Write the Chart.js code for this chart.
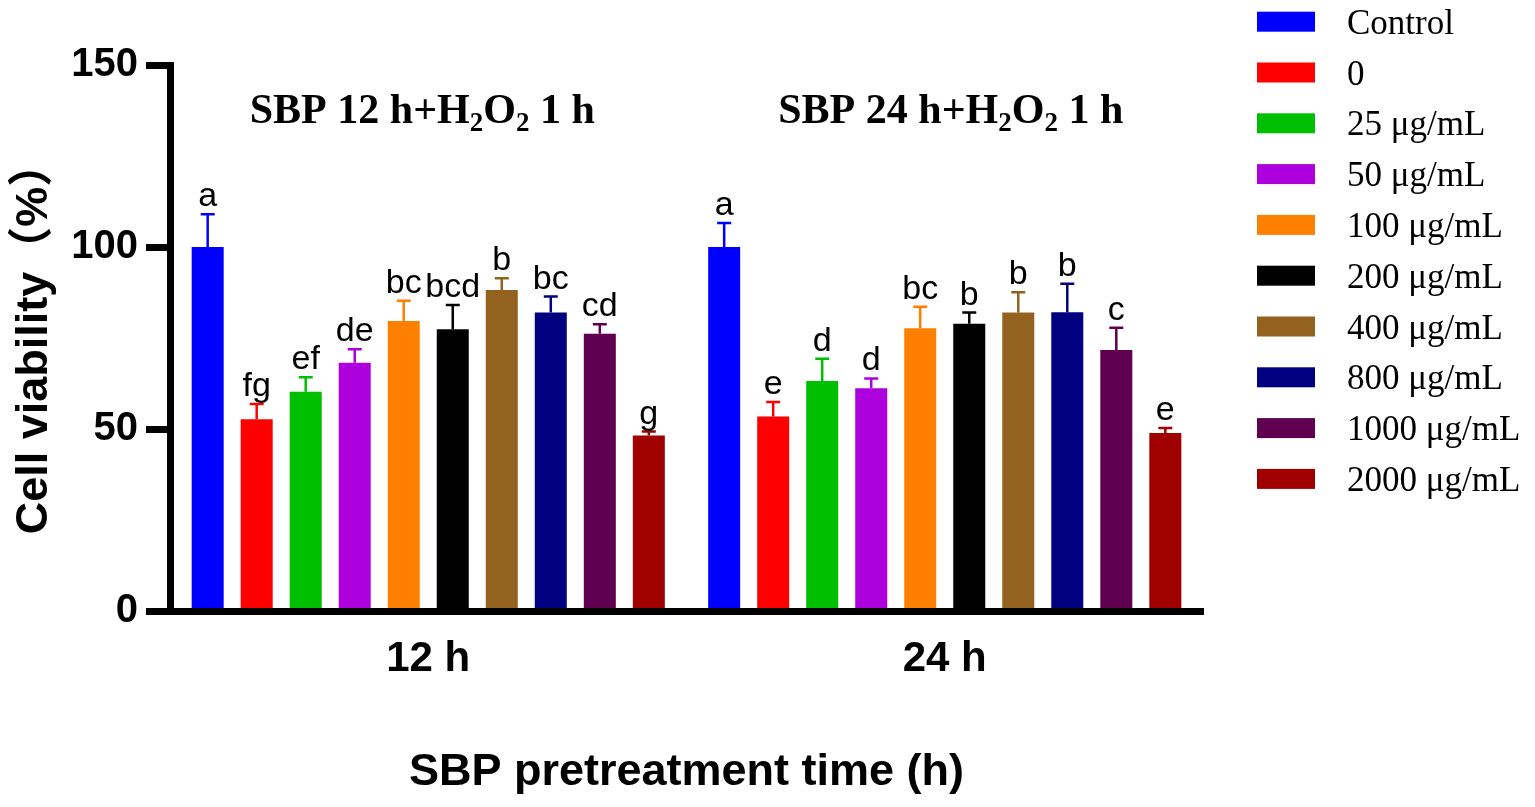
<!DOCTYPE html>
<html>
<head>
<meta charset="utf-8">
<script src="https://cdn.jsdelivr.net/npm/chart.js@4.4.1/dist/chart.umd.min.js"></script>
<style>
  html, body { margin: 0; padding: 0; background: #fff; }
  #wrap { width: 1535px; height: 807px; position: relative; }
</style>
</head>
<body>
<div id="wrap"><canvas id="viabilityChart"></canvas></div>
<script>
// ===== DATA =====
const timeLabels = ['12 h', '24 h'];
const groupTitles = ['SBP 12 h+H|2|O|2| 1 h', 'SBP 24 h+H|2|O|2| 1 h'];
const doses = ['Control', '0', '25 μg/mL', '50 μg/mL', '100 μg/mL', '200 μg/mL',
  '400 μg/mL', '800 μg/mL', '1000 μg/mL', '2000 μg/mL'];
const doseColors = ['#0000FF', '#FF0000', '#00BF00', '#AE00DE', '#FF8000', '#000000',
  '#94621F', '#000080', '#5F0050', '#A00000'];
const viability12 = [100, 52.7, 60.2, 68.2, 79.7, 77.4, 88.2, 82.0, 76.2, 48.2];
const error12 = [9.0, 4.2, 4.0, 3.7, 5.5, 6.7, 3.2, 4.4, 2.6, 1.1];
const letters12 = ['a', 'fg', 'ef', 'de', 'bc', 'bcd', 'b', 'bc', 'cd', 'g'];
const viability24 = [100, 53.4, 63.2, 61.2, 77.7, 78.9, 82.0, 82.1, 71.7, 48.9];
const error24 = [6.6, 4.0, 6.1, 2.7, 5.9, 3.1, 5.6, 7.8, 6.1, 1.4];
const letters24 = ['a', 'e', 'd', 'd', 'bc', 'b', 'b', 'b', 'c', 'e'];
const yTicks = [0, 50, 100, 150];

const errors = [error12, error24];
const letters = [letters12, letters24];

const sans = '"Liberation Sans", Arial, "Noto Sans CJK SC", sans-serif';
const serif = '"Liberation Serif", "Times New Roman", serif';

// error bars + significance letters
const errorBarPlugin = {
  id: 'errorBars',
  afterDatasetsDraw(chart) {
    const ctx = chart.ctx;
    const y = chart.scales.y;
    ctx.save();
    chart.data.datasets.forEach((ds, di) => {
      const meta = chart.getDatasetMeta(di);
      meta.data.forEach((bar, gi) => {
        const top = y.getPixelForValue(ds.data[gi] + errors[gi][di]);
        ctx.strokeStyle = ds.backgroundColor;
        ctx.lineWidth = 2.5;
        ctx.beginPath();
        ctx.moveTo(bar.x, bar.y);
        ctx.lineTo(bar.x, top);
        ctx.moveTo(bar.x - 7, top);
        ctx.lineTo(bar.x + 7, top);
        ctx.stroke();
        ctx.fillStyle = '#000';
        ctx.font = '34px ' + sans;
        ctx.textAlign = 'center';
        ctx.textBaseline = 'alphabetic';
        ctx.fillText(letters[gi][di], bar.x, top - 8);
      });
    });
    ctx.restore();
  }
};

// group titles with subscripts
const groupTitlePlugin = {
  id: 'groupTitles',
  afterDraw(chart) {
    const ctx = chart.ctx;
    const x = chart.scales.x, y = chart.scales.y;
    const big = 'bold 42px ' + serif, small = 'bold 27px ' + serif;
    ctx.save();
    ctx.fillStyle = '#000';
    ctx.textBaseline = 'alphabetic';
    ctx.textAlign = 'left';
    groupTitles.forEach((t, i) => {
      const parts = t.split('|');
      let w = 0;
      parts.forEach((p, k) => { ctx.font = k % 2 ? small : big; w += ctx.measureText(p).width; });
      let cx = x.getPixelForValue(i) - w / 2 + (i ? 6 : -6);
      const base = y.getPixelForValue(134);
      parts.forEach((p, k) => {
        ctx.font = k % 2 ? small : big;
        ctx.fillText(p, cx, k % 2 ? base + 8 : base);
        cx += ctx.measureText(p).width;
      });
    });
    ctx.restore();
  }
};

// legend at the right side
const sideLegendPlugin = {
  id: 'sideLegend',
  afterDraw(chart) {
    const ctx = chart.ctx;
    ctx.save();
    ctx.font = '35px ' + serif;
    ctx.textAlign = 'left';
    ctx.textBaseline = 'alphabetic';
    doses.forEach((d, i) => {
      const cy = 21.7 + i * 50.8;
      ctx.fillStyle = doseColors[i];
      ctx.fillRect(1257, cy - 10, 58, 20);
      ctx.fillStyle = '#000';
      ctx.fillText(d, 1347, cy + 12);
    });
    ctx.restore();
  }
};

new Chart(document.getElementById('viabilityChart'), {
  type: 'bar',
  data: {
    labels: timeLabels,
    datasets: doses.map((d, i) => ({
      label: d,
      data: [viability12[i], viability24[i]],
      backgroundColor: doseColors[i],
      borderWidth: 0,
      categoryPercentage: 0.949,
      barPercentage: 0.653
    }))
  },
  options: {
    responsive: true,
    maintainAspectRatio: false,
    animation: false,
    layout: { padding: { top: 65, right: 332, bottom: 0, left: 0 } },
    plugins: { legend: { display: false }, tooltip: { enabled: false } },
    scales: {
      x: {
        grid: { display: false, drawTicks: false },
        border: { display: true, color: '#000', width: 7, z: 1 },
        ticks: { color: '#000', padding: 23, font: { family: sans, size: 42, weight: 'bold' } },
        title: {
          display: true, text: 'SBP pretreatment time (h)', color: '#000',
          font: { family: sans, size: 45, weight: 'bold' }, padding: { top: 0, bottom: 7 }
        },
        afterFit(scale) { scale.height = 196; }
      },
      y: {
        min: 0, max: 150,
        afterBuildTicks(scale) { scale.ticks = yTicks.map(v => ({ value: v })); },
        grid: { drawOnChartArea: false, drawTicks: true, tickLength: 24, tickWidth: 7, color: '#000' },
        border: { display: true, color: '#000', width: 7, z: 1 },
        ticks: { color: '#000', padding: 8, font: { family: sans, size: 40, weight: 'bold' } },
        title: {
          display: true, text: 'Cell viability（%）', color: '#000',
          font: { family: sans, size: 45, weight: 'bold' }, padding: { top: 8, bottom: 0 }
        },
        afterFit(scale) { scale.width = 170; }
      }
    }
  },
  plugins: [errorBarPlugin, groupTitlePlugin, sideLegendPlugin]
});
</script>
</body>
</html>
